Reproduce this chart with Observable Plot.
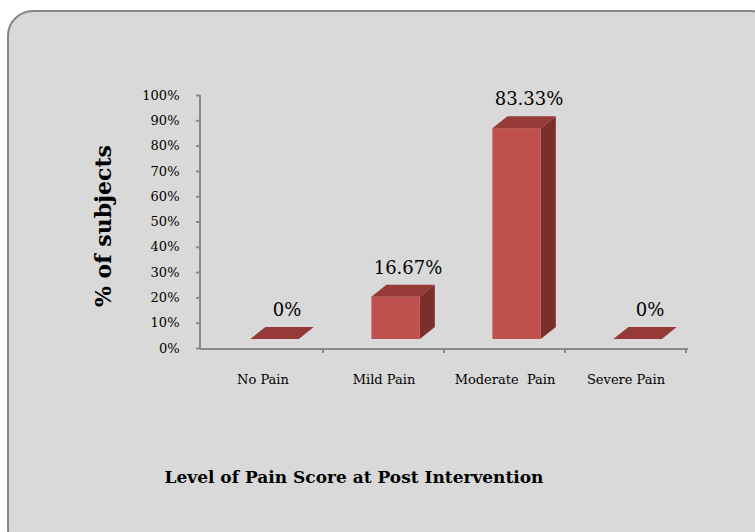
<!DOCTYPE html>
<html><head><meta charset="utf-8">
<script src="https://cdn.jsdelivr.net/npm/d3@7"></script>
<script src="https://cdn.jsdelivr.net/npm/@observablehq/plot@0.6"></script>
<style>
html,body{margin:0;padding:0;background:#fff;}
#wrap{position:relative;width:755px;height:532px;overflow:hidden;}
#box{position:absolute;left:7px;top:10px;width:770px;height:545px;background:#d9d9d9;border:2px solid #868686;border-radius:26px;box-sizing:border-box;}
#chart{position:absolute;left:0;top:0;}
</style></head><body>
<div id="wrap"><div id="box"></div><div id="chart"></div></div>
<script>
const categories = ["No Pain", "Mild Pain", "Moderate\u00a0 Pain", "Severe Pain"];
const values = [0, 16.67, 83.33, 0];
const valueLabels = ["0%", "16.67%", "83.33%", "0%"];
const yTicks = [0, 10, 20, 30, 40, 50, 60, 70, 80, 90, 100];
const yTitle = "% of subjects";
const xTitle = "Level of Pain Score at Post Intervention";

const data = categories.map((c, i) => ({category: c, value: values[i], label: valueLabels[i]}));

const W = 755, H = 532;
const mL = 200, mR = 68, mT = 95, mB = 184;
const depthX = 15, depthY = -12, lift = 9;
const FONT = "'DejaVu Serif', serif";

function bars3d(index, scales, vals, dims) {
  const x = scales.x, y = scales.y;
  const step = x(categories[1]) - x(categories[0]);
  const g = d3.create("svg:g");
  g.append("line").attr("x1", dims.marginLeft).attr("x2", dims.marginLeft)
    .attr("y1", dims.marginTop).attr("y2", y(0) + 1)
    .attr("stroke", "#898989").attr("stroke-width", 2);
  g.append("line").attr("x1", dims.marginLeft).attr("x2", dims.width - dims.marginRight + 1)
    .attr("y1", y(0) + 1).attr("y2", y(0) + 1)
    .attr("stroke", "#898989").attr("stroke-width", 2);
  const bounds = categories.slice(1).map(c => x(c)).concat([x(categories[categories.length - 1]) + step]);
  for (const bx of bounds) {
    g.append("line").attr("x1", bx).attr("x2", bx).attr("y1", y(0) + 1).attr("y2", y(0) + 5)
      .attr("stroke", "#898989").attr("stroke-width", 2);
  }
  for (const d of data) {
    const x0 = x(d.category) + 0.40 * step;
    const x1 = x0 + 0.40 * step;
    const yb = y(0) - lift;
    const yt = y(d.value) - lift;
    if (yb - yt > 0.5) {
      g.append("polygon")
        .attr("points", [[x1, yt], [x1 + depthX, yt + depthY], [x1 + depthX, yb + depthY], [x1, yb]].map(p => p.join(",")).join(" "))
        .attr("fill", "#7a2f2d");
      g.append("rect").attr("x", x0).attr("y", yt).attr("width", x1 - x0).attr("height", yb - yt)
        .attr("fill", "#c0504d");
    }
    g.append("polygon")
      .attr("points", [[x0, yt], [x1, yt], [x1 + depthX, yt + depthY], [x0 + depthX, yt + depthY]].map(p => p.join(",")).join(" "))
      .attr("fill", "#953a37");
  }
  return g.node();
}

const chart = Plot.plot({
  width: W, height: H,
  marginLeft: mL, marginRight: mR, marginTop: mT, marginBottom: mB,
  style: {background: "transparent", fontFamily: FONT, color: "#000", overflow: "visible"},
  x: {type: "band", domain: categories, padding: 0, label: null},
  y: {domain: [0, 100], label: null},
  marks: [
    Plot.axisY({ticks: yTicks, tickFormat: d => d + "%", tickSize: 4, tickPadding: 17, fontSize: 13, fontFamily: FONT, stroke: "#898989", strokeWidth: 2, label: null}),
    Plot.axisX({tickSize: 0, tickPadding: 26, fontSize: 13, fontFamily: FONT, label: null}),
    bars3d,
    Plot.text(data, {x: "category", y: "value", text: "label", dx: 24, dy: -38, fontSize: 18, fontFamily: FONT, lineAnchor: "middle", textAnchor: "middle", fill: "#000"}),
    Plot.text([yTitle], {frameAnchor: "left", rotate: -90, dx: -97, dy: 4, fontSize: 22, fontFamily: FONT, fontWeight: "bold", textAnchor: "middle", lineAnchor: "middle", fill: "#000"}),
    Plot.text([xTitle], {frameAnchor: "bottom", dx: -90, dy: 129, fontSize: 17, fontFamily: FONT, fontWeight: "bold", textAnchor: "middle", lineAnchor: "middle", fill: "#000"})
  ]
});
document.getElementById("chart").appendChild(chart);
</script>
</body></html>
